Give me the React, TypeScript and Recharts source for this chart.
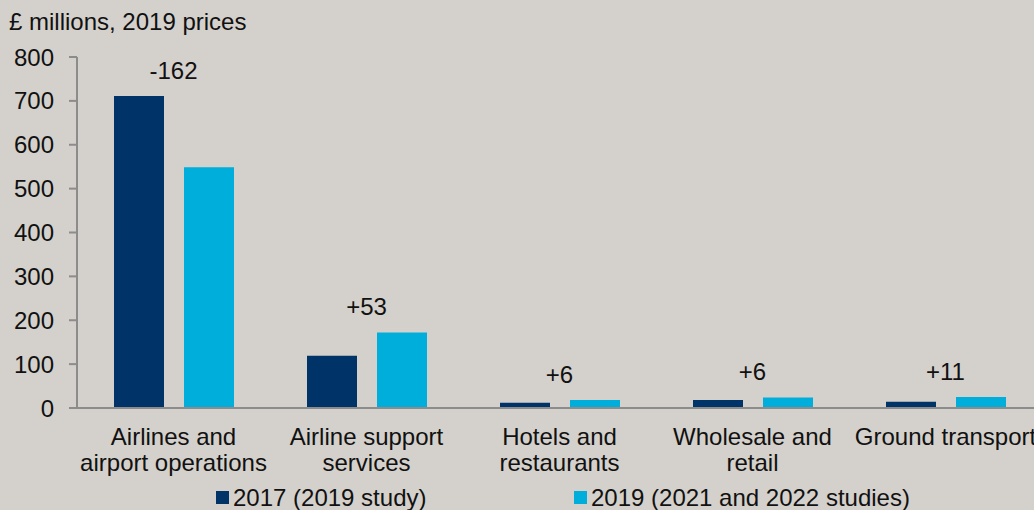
import React from 'react';
import {
  ComposedChart,
  Bar,
  Line,
  XAxis,
  YAxis,
  Legend,
  LabelList,
} from 'recharts';

const categories = [
  'Airlines and\nairport operations',
  'Airline support\nservices',
  'Hotels and\nrestaurants',
  'Wholesale and\nretail',
  'Ground transport',
];
const values2017 = [711, 119, 12, 18, 14];
const values2019 = [549, 172, 18, 24, 25];
const changeLabels = ['-162', '+53', '+6', '+6', '+11'];
const yTicks = [0, 100, 200, 300, 400, 500, 600, 700, 800];

const seriesNames = ['2017 (2019 study)', '2019 (2021 and 2022 studies)'];
const DARK = '#003468';
const CYAN = '#00AEDB';
const BG = '#D4D0CB';
const AXIS = '#8C8C8C';
const FONT = '"Liberation Sans", Arial, sans-serif';

const data = categories.map((name, i) => ({
  name,
  s2017: values2017[i],
  s2019: values2019[i],
  top: Math.max(values2017[i], values2019[i]),
  change: changeLabels[i],
}));

function CategoryTick({ x, y, payload }: any) {
  const lines = String(payload.value).split('\n');
  return (
    <text x={x} y={y} textAnchor="middle" fill="#111" fontSize={24} fontFamily={FONT}>
      {lines.map((l, i) => (
        <tspan key={i} x={x} dy={i === 0 ? 35 : 26}>
          {l}
        </tspan>
      ))}
    </text>
  );
}

function ChangeLabel({ x, y, value }: any) {
  return (
    <text
      x={x}
      y={y - 26}
      textAnchor="middle"
      dominantBaseline="central"
      fill="#111"
      fontSize={24}
      fontFamily={FONT}
    >
      {value}
    </text>
  );
}

function LegendContent() {
  const items = [
    { label: seriesNames[0], color: DARK, left: 216 },
    { label: seriesNames[1], color: CYAN, left: 574 },
  ];
  return (
    <div style={{ position: 'relative', height: 24, fontFamily: FONT, fontSize: 24, color: '#111' }}>
      {items.map((it) => (
        <div
          key={it.label}
          style={{ position: 'absolute', left: it.left, top: 0, height: 24, lineHeight: '24px', whiteSpace: 'nowrap' }}
        >
          <span
            style={{ display: 'inline-block', width: 13, height: 13, background: it.color, marginRight: 4, verticalAlign: 'middle', position: 'relative', top: -2 }}
          />
          {it.label}
        </div>
      ))}
    </div>
  );
}

export default function App() {
  return (
    <div
      style={{
        position: 'absolute',
        left: 0,
        top: 0,
        width: 1034,
        height: 510,
        overflow: 'hidden',
        background: BG,
      }}
    >
      <div
        style={{
          position: 'absolute',
          left: 9,
          top: 10,
          fontFamily: FONT,
          fontSize: 24,
          lineHeight: '24px',
          color: '#111',
          whiteSpace: 'nowrap',
        }}
      >
        £ millions, 2019 prices
      </div>
      <ComposedChart
        width={1050}
        height={510}
        data={data}
        margin={{ top: 57, right: 8, bottom: 0, left: 0 }}
        barCategoryGap="19%"
        barGap={20}
      >
        <XAxis
          dataKey="name"
          tick={<CategoryTick />}
          tickLine={false}
          tickSize={0}
          height={78}
          interval={0}
          axisLine={{ stroke: AXIS, strokeWidth: 2 }}
        />
        <YAxis
          domain={[0, 800]}
          ticks={yTicks}
          width={77}
          tickSize={8}
          tickMargin={15}
          tickLine={{ stroke: AXIS, strokeWidth: 2 }}
          axisLine={{ stroke: AXIS, strokeWidth: 2 }}
          tick={{ fill: '#111', fontSize: 24, fontFamily: FONT }}
        />
        <Legend verticalAlign="bottom" content={<LegendContent />} wrapperStyle={{ left: 0, width: 1050 }} />
        <Bar dataKey="s2017" name={seriesNames[0]} fill={DARK} barSize={50} isAnimationActive={false} />
        <Bar dataKey="s2019" name={seriesNames[1]} fill={CYAN} barSize={50} isAnimationActive={false} />
        <Line
          dataKey="top"
          stroke="none"
          dot={false}
          activeDot={false}
          legendType="none"
          isAnimationActive={false}
        >
          <LabelList dataKey="change" content={<ChangeLabel />} />
        </Line>
      </ComposedChart>
    </div>
  );
}
